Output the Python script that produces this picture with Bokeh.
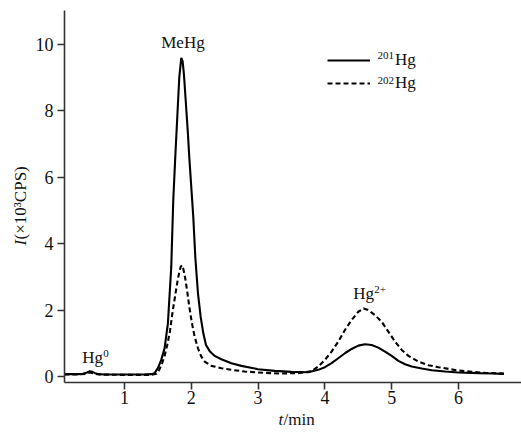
from math import pi
from bokeh.plotting import figure
from bokeh.models import Label, Legend, LegendItem, FixedTicker
from bokeh.embed import file_html
from bokeh.resources import INLINE

# 201Hg trace (solid)
t201 = [0.10, 0.20, 0.30, 0.38, 0.44, 0.48, 0.52, 0.56, 0.62, 0.70, 0.90, 1.10, 1.30, 1.40,
        1.45, 1.50, 1.55, 1.60, 1.65, 1.70, 1.73, 1.76, 1.79, 1.82, 1.85, 1.87, 1.89, 1.92,
        1.95, 1.97, 2.00, 2.03, 2.06, 2.10, 2.14, 2.18, 2.22, 2.28, 2.35, 2.45, 2.60, 2.75,
        3.00, 3.25, 3.50, 3.75, 3.90, 4.00, 4.10, 4.20, 4.30, 4.40, 4.50, 4.60, 4.70, 4.80,
        4.90, 5.00, 5.10, 5.20, 5.30, 5.45, 5.60, 5.80, 6.00, 6.30, 6.50, 6.68]
i201 = [0.07, 0.07, 0.07, 0.08, 0.12, 0.16, 0.14, 0.10, 0.07, 0.06, 0.06, 0.06, 0.06, 0.07,
        0.10, 0.25, 0.50, 0.85, 1.60, 3.30, 5.30, 6.60, 7.80, 9.00, 9.60, 9.50, 9.10, 8.20,
        7.30, 6.60, 5.70, 4.80, 3.60, 2.50, 1.80, 1.30, 0.95, 0.75, 0.62, 0.52, 0.40, 0.32,
        0.22, 0.17, 0.14, 0.13, 0.20, 0.28, 0.40, 0.55, 0.70, 0.83, 0.93, 0.97, 0.95, 0.87,
        0.75, 0.62, 0.47, 0.37, 0.30, 0.24, 0.19, 0.15, 0.12, 0.10, 0.09, 0.08]

# 202Hg trace (dashed)
t202 = [0.10, 0.30, 0.42, 0.48, 0.54, 0.62, 0.90, 1.20, 1.40, 1.48, 1.52, 1.56, 1.60, 1.64,
        1.68, 1.72, 1.76, 1.80, 1.84, 1.86, 1.88, 1.91, 1.94, 1.97, 2.01, 2.05, 2.10, 2.15,
        2.20, 2.30, 2.45, 2.60, 2.80, 3.00, 3.30, 3.60, 3.80, 3.90, 4.00, 4.10, 4.20, 4.30,
        4.40, 4.50, 4.58, 4.65, 4.75, 4.85, 4.95, 5.05, 5.15, 5.25, 5.40, 5.55, 5.70, 5.85,
        6.00, 6.20, 6.40, 6.68]
i202 = [0.06, 0.06, 0.08, 0.12, 0.09, 0.06, 0.05, 0.05, 0.05, 0.08, 0.20, 0.38, 0.62, 0.95,
        1.35, 1.95, 2.45, 2.95, 3.30, 3.35, 3.25, 2.95, 2.55, 2.10, 1.60, 1.20, 0.85, 0.60,
        0.45, 0.32, 0.25, 0.20, 0.15, 0.12, 0.09, 0.10, 0.16, 0.30, 0.50, 0.75, 1.05, 1.40,
        1.70, 1.95, 2.05, 2.00, 1.85, 1.65, 1.35, 1.05, 0.80, 0.62, 0.45, 0.34, 0.28, 0.23,
        0.18, 0.14, 0.11, 0.09]

x_ticks = [1, 2, 3, 4, 5, 6, 7]
y_ticks = [0, 2, 4, 6, 8, 10]

# peak annotations: species name, superscript, anchor (left edge, text middle)
peak_names = ["Hg", "MeHg", "Hg"]
peak_sups = ["0", "", "2+"]
peak_x = [0.367, 1.55, 4.424]
peak_y = [0.58, 10.05, 2.50]

legend_isotopes = ["201", "202"]
legend_element = "Hg"

FONT = "Liberation Serif"
AX = "#333333"
TXT = "#111111"

X_AXIS_START, X_AXIS_END = 0.102, 6.943
Y_AXIS_START, Y_AXIS_END = -0.18, 11.02

p = figure(width=521, height=432, output_backend="svg", toolbar_location=None, title=None,
           x_range=(-0.856, 6.943), y_range=(-1.687, 11.325),
           min_border_left=0, min_border_right=0, min_border_top=0, min_border_bottom=0)
p.outline_line_color = None
p.grid.grid_line_color = None
p.background_fill_color = "white"
p.border_fill_color = "white"

r1 = p.line(t201, i201, line_color="black", line_width=2.1)
r2 = p.line(t202, i202, line_color="black", line_width=2.1, line_dash="5 3")

for ax in (p.xaxis[0], p.yaxis[0]):
    ax.axis_line_color = AX
    ax.axis_line_width = 1.6
    ax.major_tick_line_color = AX
    ax.major_tick_line_width = 1.6
    ax.major_tick_out = 7
    ax.major_tick_in = 0
    ax.minor_tick_line_color = None
    ax.major_label_text_font = FONT
    ax.major_label_text_font_size = "18px"
    ax.major_label_text_color = TXT

p.xaxis.ticker = FixedTicker(ticks=x_ticks)
p.yaxis.ticker = FixedTicker(ticks=y_ticks)
p.xaxis.fixed_location = Y_AXIS_START
p.yaxis.fixed_location = X_AXIS_START
p.xaxis.bounds = (X_AXIS_START, X_AXIS_END)
p.yaxis.bounds = (Y_AXIS_START, Y_AXIS_END)
p.xaxis.major_label_standoff = 2
p.yaxis.major_label_standoff = 4

# axis titles with italic symbol (screen units, frame = whole canvas)
p.add_layout(Label(x=278, y=13, x_units="screen", y_units="screen", text="t",
                   text_font=FONT, text_font_style="italic", text_font_size="17px",
                   text_baseline="middle", text_color=TXT))
p.add_layout(Label(x=283, y=13, x_units="screen", y_units="screen", text="/min",
                   text_font=FONT, text_font_size="17px", text_baseline="middle",
                   text_color=TXT))
p.add_layout(Label(x=20, y=187, x_units="screen", y_units="screen", text="I",
                   text_font=FONT, text_font_style="italic", text_font_size="17px",
                   text_baseline="middle", angle=pi / 2, text_color=TXT))
p.add_layout(Label(x=20, y=193, x_units="screen", y_units="screen", text="(×10³CPS)",
                   text_font=FONT, text_font_size="17px", text_baseline="middle",
                   angle=pi / 2, text_color=TXT))

for name, sup, px, py in zip(peak_names, peak_sups, peak_x, peak_y):
    p.add_layout(Label(x=px, y=py, text=name, text_font=FONT, text_font_size="17px",
                       text_baseline="middle", text_align="left", text_color=TXT))
    if sup:
        p.add_layout(Label(x=px, y=py, x_offset=21, y_offset=4, text=sup, text_font=FONT,
                           text_font_size="11px", text_baseline="middle", text_align="left",
                           text_color=TXT))

legend = Legend(items=[LegendItem(label=legend_element, renderers=[r1]),
                       LegendItem(label=legend_element, renderers=[r2])],
                location=(327, 339), orientation="vertical",
                label_text_font=FONT, label_text_font_size="17px", label_text_color=TXT,
                glyph_width=43, glyph_height=20, label_height=20, label_standoff=25,
                spacing=3, padding=0, margin=0, border_line_color=None,
                background_fill_alpha=0)
p.add_layout(legend)

for k, iso in enumerate(legend_isotopes):
    p.add_layout(Label(x=377, y=377 - 25 * k, x_units="screen", y_units="screen", text=iso,
                       text_font=FONT, text_font_size="11px", text_baseline="middle",
                       text_align="left", text_color=TXT))

open("out.html", "w").write(file_html(p, INLINE))
